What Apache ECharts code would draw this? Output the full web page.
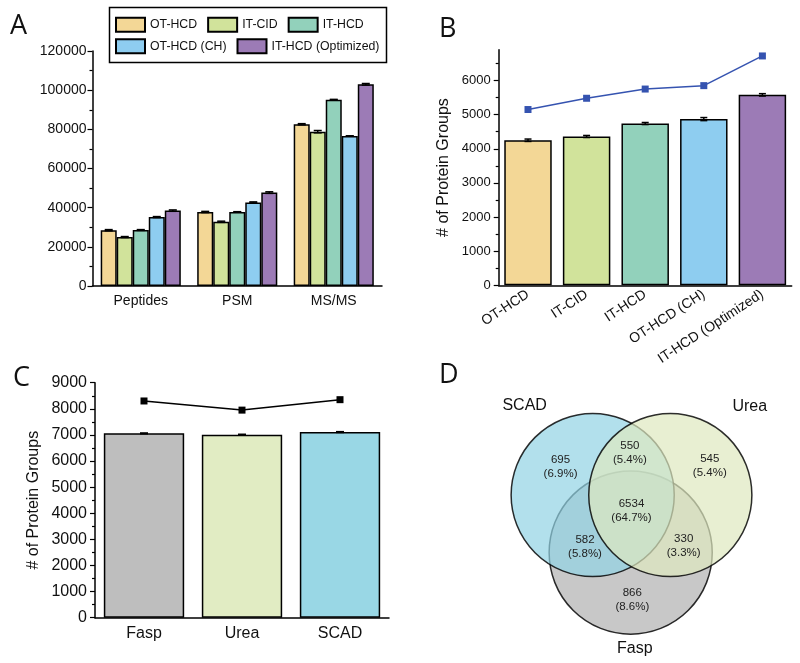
<!DOCTYPE html>
<html>
<head>
<meta charset="utf-8">
<script src="https://cdn.jsdelivr.net/npm/echarts@6/dist/echarts.min.js"></script>
<style>
  html, body { margin: 0; padding: 0; background: #fff; }
  #chart { width: 800px; height: 663px; }
</style>
</head>
<body>
<div id="chart"></div>
<script>
// ---- panel A: identifications per method ----
const methods = ['OT-HCD', 'IT-CID', 'IT-HCD', 'OT-HCD (CH)', 'IT-HCD (Optimized)']
const aCategories = ['Peptides', 'PSM', 'MS/MS']
const aValues = [
  [28500, 37800, 82600],   // OT-HCD
  [25000, 32800, 78800],   // IT-CID
  [28600, 37800, 95100],   // IT-HCD
  [35200, 42700, 76600],   // OT-HCD (CH)
  [38500, 47700, 103000]   // IT-HCD (Optimized)
]
const aErrors = [
  [300, 300, 300],
  [250, 300, 600],
  [200, 150, 200],
  [250, 250, 100],
  [350, 400, 400]
]

// ---- panel B: protein groups per method ----
const bBars = [4250, 4360, 4740, 4870, 5580]
const bErrors = [35, 30, 30, 45, 35]
const bLine = [5150, 5480, 5750, 5850, 6720]

// ---- panel C: protein groups per digestion ----
const cCategories = ['Fasp', 'Urea', 'SCAD']
const cBars = [7060, 7010, 7110]
const cErrors = [15, 15, 15]
const cLine = [8300, 7950, 8350]

// ---- panel D: venn ----
const vennSets = ['Fasp', 'SCAD', 'Urea']
const vennCounts = [695, 550, 545, 6534, 582, 330, 866]   // SCAD, SCAD∩Urea, Urea, all, SCAD∩Fasp, Urea∩Fasp, Fasp

// styles / layout
const METHOD_COLORS = ['#f3d796', '#d1e39b', '#92d1bb', '#8ecdf0', '#9c7bb6']
const C_COLORS = ['#bebebe', '#e1ecc3', '#99d7e5']
const VENN_FILL = ['rgba(176,176,176,0.7)', 'rgba(145,211,228,0.7)', 'rgba(222,232,191,0.7)']
const VENN_CENTER = [[-0.01, -0.706], [-0.476, 0], [0.476, 0]]
const VENN_NAME_POS = [[0.04, -1.88], [-1.31, 1.10], [1.45, 1.08]]
const VENN_REGION_POS = [[-0.87, 0.35], [-0.02, 0.52], [0.96, 0.36], [0, -0.19], [-0.57, -0.64], [0.64, -0.62], [0.01, -1.28]]
const FONT = 'Liberation Sans, Arial, sans-serif'

const chart = echarts.init(document.getElementById('chart'))

function errorSeries(xIdx, yIdx, values, errors, idx, n, gapRatio, capW) {
  return {
    type: 'custom', xAxisIndex: xIdx, yAxisIndex: yIdx, z: 5, silent: true,
    data: values.map((v, i) => [i, v, errors[i]]),
    renderItem: function (params, api) {
      const cat = api.value(0), v = api.value(1), e = api.value(2)
      const catW = api.size([1, 0])[0]
      const groupW = catW * (1 - gapRatio)
      const barW = groupW / n
      const x = api.coord([cat, v])[0] - groupW / 2 + barW * (idx + 0.5)
      const yHi = api.coord([cat, v + e])[1]
      const yLo = api.coord([cat, v - e])[1]
      const st = { stroke: '#000', lineWidth: 1.5, fill: null }
      return {
        type: 'group', children: [
          { type: 'line', shape: { x1: x, y1: yHi, x2: x, y2: yLo }, style: st },
          { type: 'line', shape: { x1: x - capW / 2, y1: yHi, x2: x + capW / 2, y2: yHi }, style: st },
          { type: 'line', shape: { x1: x - capW / 2, y1: yLo, x2: x + capW / 2, y2: yLo }, style: st }
        ]
      }
    }
  }
}

const axisLine = { lineStyle: { color: '#000', width: 1.5 } }
const tickStyle = { lineStyle: { color: '#000', width: 1.2 } }
const plain = v => String(v)

function range(a, b, step) { const r = []; for (let v = a; v <= b; v += step) r.push(v); return r }

const vennTotal = vennCounts.reduce((s, v) => s + v, 0)

const option = {
  animation: false,
  textStyle: { fontFamily: FONT, color: '#111' },
  title: [
    { text: 'A', left: 5, top: 8 },
    { text: 'B', left: 434, top: 11 },
    { text: 'C', left: 8, top: 360 },
    { text: 'D', left: 434, top: 357 }
  ].map(t => Object.assign(t, { textStyle: { fontFamily: 'Open Sans, sans-serif', fontSize: 27, fontWeight: 'normal', color: '#111' } })),
  legend: [
    { data: methods.slice(0, 3), left: 115, top: 16.7 },
    { data: methods.slice(3), left: 115, top: 38.3 }
  ].map(l => Object.assign(l, {
    orient: 'horizontal', padding: 0, itemGap: 10, itemWidth: 29, itemHeight: 14,
    icon: 'rect', selectedMode: false,
    textStyle: { fontFamily: FONT, fontSize: 12.3, color: '#111' }
  })),
  graphic: [
    { type: 'rect', left: 107, top: 5, shape: { width: 277, height: 55 }, style: { fill: null, stroke: '#000', lineWidth: 1.5 }, silent: true }
  ],
  grid: [
    { left: 92.5, top: 51, width: 289.5, height: 235 },
    { left: 498.7, top: 49.8, width: 293, height: 235.5 },
    { left: 95, top: 382.7, width: 294, height: 235 },
    { left: 501, top: 381, width: 261, height: 277 }
  ],
  xAxis: [
    { gridIndex: 0, type: 'category', data: aCategories, axisLine, axisTick: Object.assign({ length: 4 }, tickStyle),
      axisLabel: { fontSize: 14, color: '#111', margin: 8 } },
    { gridIndex: 1, type: 'category', data: methods, axisLine, axisTick: Object.assign({ length: 5, alignWithLabel: true }, tickStyle),
      axisLabel: { fontSize: 14, color: '#111', rotate: 33, interval: 0, margin: 8 } },
    { gridIndex: 2, type: 'category', data: cCategories, axisLine, axisTick: Object.assign({ length: 4 }, tickStyle),
      axisLabel: { fontSize: 16, color: '#111', margin: 8 } },
    { gridIndex: 3, type: 'value', min: -1.6, max: 1.6, show: false },
    // boundary ticks for panel B
    { gridIndex: 1, type: 'category', data: methods, position: 'bottom', axisLine: { show: false },
      axisTick: Object.assign({ length: 3, interval: 0 }, tickStyle), axisLabel: { show: false } }
  ],
  yAxis: [
    { gridIndex: 0, type: 'value', min: 0, max: 120000, interval: 20000, axisLine: Object.assign({ show: true }, axisLine),
      axisTick: Object.assign({ show: true, length: 5 }, tickStyle),
      minorTick: { show: true, splitNumber: 2, length: 3, lineStyle: { color: '#000', width: 1.2 } },
      splitLine: { show: false }, axisLabel: { fontSize: 14, color: '#111', margin: 6, formatter: plain } },
    { gridIndex: 1, type: 'value', min: 0, max: 6900, interval: 1000, axisLine: Object.assign({ show: true }, axisLine),
      axisTick: Object.assign({ show: true, length: 5, customValues: range(0, 6000, 1000) }, tickStyle),
      splitLine: { show: false },
      axisLabel: { fontSize: 13, color: '#111', margin: 8, customValues: range(0, 6000, 1000), formatter: plain },
      name: '# of Protein Groups', nameLocation: 'middle', nameGap: 47,
      nameTextStyle: { fontSize: 16, color: '#111', fontFamily: FONT } },
    { gridIndex: 1, type: 'value', min: 0, max: 6900, position: 'left', axisLine: { show: false },
      axisTick: Object.assign({ show: true, length: 3, customValues: range(500, 6500, 1000) }, tickStyle),
      axisLabel: { show: false }, splitLine: { show: false } },
    { gridIndex: 2, type: 'value', min: 0, max: 9000, interval: 1000, axisLine: Object.assign({ show: true }, axisLine),
      axisTick: Object.assign({ show: true, length: 5 }, tickStyle),
      minorTick: { show: true, splitNumber: 2, length: 3, lineStyle: { color: '#000', width: 1.2 } },
      splitLine: { show: false }, axisLabel: { fontSize: 16, color: '#111', margin: 8, formatter: plain },
      name: '# of Protein Groups', nameLocation: 'middle', nameGap: 53,
      nameTextStyle: { fontSize: 16, color: '#111', fontFamily: FONT } },
    { gridIndex: 3, type: 'value', min: -2, max: 1.4, show: false }
  ],
  series: []
}

// A
methods.forEach((m, i) => {
  option.series.push({
    type: 'bar', name: m, xAxisIndex: 0, yAxisIndex: 0, data: aValues[i],
    barGap: '0%', barCategoryGap: '17%',
    itemStyle: { color: METHOD_COLORS[i], borderColor: '#000', borderWidth: 1.5 }
  })
  option.series.push(errorSeries(0, 0, aValues[i], aErrors[i], i, methods.length, 0.17, 8))
})

// B
option.series.push({
  type: 'bar', name: 'B bars', xAxisIndex: 1, yAxisIndex: 1, barCategoryGap: '19%',
  data: bBars.map((v, i) => ({ value: v, itemStyle: { color: METHOD_COLORS[i] } })),
  itemStyle: { borderColor: '#000', borderWidth: 1.5 }
})
option.series.push(errorSeries(1, 1, bBars, bErrors, 0, 1, 0.19, 7))
option.series.push({
  type: 'line', name: 'B total', xAxisIndex: 1, yAxisIndex: 1, data: bLine,
  symbol: 'rect', symbolSize: 7, itemStyle: { color: '#3553b0' }, lineStyle: { color: '#3553b0', width: 1.5 }, z: 6
})

// C
option.series.push({
  type: 'bar', name: 'C bars', xAxisIndex: 2, yAxisIndex: 3, barCategoryGap: '18%',
  data: cBars.map((v, i) => ({ value: v, itemStyle: { color: C_COLORS[i] } })),
  itemStyle: { borderColor: '#000', borderWidth: 1.5 }
})
option.series.push(errorSeries(2, 3, cBars, cErrors, 0, 1, 0.18, 8))
option.series.push({
  type: 'line', name: 'C total', xAxisIndex: 2, yAxisIndex: 3, data: cLine,
  symbol: 'rect', symbolSize: 7, itemStyle: { color: '#000' }, lineStyle: { color: '#000', width: 1.5 }, z: 6
})

// D: circles
option.series.push({
  type: 'custom', name: 'venn', xAxisIndex: 3, yAxisIndex: 4, silent: true,
  data: vennSets.map((s, i) => [VENN_CENTER[i][0], VENN_CENTER[i][1], i]),
  renderItem: function (params, api) {
    const c = api.coord([api.value(0), api.value(1)])
    const r = api.size([1, 1])[0]
    const i = api.value(2)
    return {
      type: 'circle', shape: { cx: c[0], cy: c[1], r: r },
      style: { fill: VENN_FILL[i], stroke: 'rgba(0,0,0,0.82)', lineWidth: 1.5 }
    }
  }
})
// D: set names
option.series.push({
  type: 'custom', name: 'venn names', xAxisIndex: 3, yAxisIndex: 4, silent: true, z: 4,
  data: vennSets.map((s, i) => [VENN_NAME_POS[i][0], VENN_NAME_POS[i][1], i]),
  renderItem: function (params, api) {
    const c = api.coord([api.value(0), api.value(1)])
    return {
      type: 'text', x: c[0], y: c[1],
      style: { text: vennSets[api.value(2)], fontSize: 16, fontFamily: FONT, fill: '#111', align: 'center', verticalAlign: 'middle' }
    }
  }
})
// D: region counts
option.series.push({
  type: 'custom', name: 'venn counts', xAxisIndex: 3, yAxisIndex: 4, silent: true, z: 4,
  data: vennCounts.map((v, i) => [VENN_REGION_POS[i][0], VENN_REGION_POS[i][1], v]),
  renderItem: function (params, api) {
    const c = api.coord([api.value(0), api.value(1)])
    const v = api.value(2)
    const pct = (v / vennTotal * 100).toFixed(1)
    return {
      type: 'text', x: c[0], y: c[1],
      style: { text: v + '\n(' + pct + '%)', fontSize: 11.5, lineHeight: 14, fontFamily: FONT, fill: '#222', align: 'center', verticalAlign: 'middle' }
    }
  }
})

chart.setOption(option)
</script>
</body>
</html>
